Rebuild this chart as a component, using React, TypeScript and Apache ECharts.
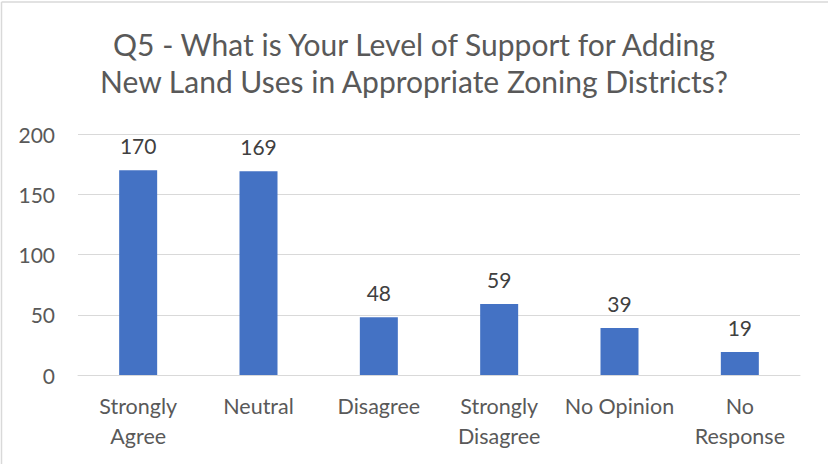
import React, { useEffect, useRef } from "react";
import * as echarts from "echarts";

const titleLines = [
  "Q5 - What is Your Level of Support for Adding",
  "New Land Uses in Appropriate Zoning Districts?",
];
const categories = [
  "Strongly\nAgree",
  "Neutral",
  "Disagree",
  "Strongly\nDisagree",
  "No Opinion",
  "No\nResponse",
];
const values = [170, 169, 48, 59, 39, 19];
const yMin = 0;
const yMax = 200;
const yInterval = 50;

const FONT = "Lato, 'Open Sans', sans-serif";

export default function App() {
  const ref = useRef<HTMLDivElement>(null);
  useEffect(() => {
    if (!ref.current) return;
    const chart = echarts.init(ref.current, null, { renderer: "svg" });
    chart.setOption({
      animation: false,
      backgroundColor: "#ffffff",
      title: {
        text: titleLines.join("\n"),
        left: "center",
        top: 20,
        textStyle: {
          fontFamily: FONT,
          fontSize: 30,
          fontWeight: "normal",
          color: "#595959",
          lineHeight: 37,
        },
      },
      graphic: [
        { type: "line", shape: { x1: 1.5, y1: 2, x2: 1.5, y2: 464 }, style: { stroke: "#d9d9d9", lineWidth: 1.5 } },
        { type: "line", shape: { x1: 1.5, y1: 2, x2: 828, y2: 2 }, style: { stroke: "#d9d9d9", lineWidth: 1.5 } },
      ],
      grid: { left: 78, right: 28, top: 134, bottom: 89, containLabel: false },
      xAxis: {
        type: "category",
        data: categories,
        axisLine: { show: true, lineStyle: { color: "#d9d9d9", width: 1 } },
        axisTick: { show: false },
        axisLabel: {
          fontFamily: FONT,
          fontSize: 21.5,
          color: "#595959",
          lineHeight: 30,
          margin: 16,
          interval: 0,
        },
      },
      yAxis: {
        type: "value",
        min: yMin,
        max: yMax,
        interval: yInterval,
        axisLine: { show: false },
        axisTick: { show: false },
        splitLine: { lineStyle: { color: "#d9d9d9", width: 1 } },
        axisLabel: {
          fontFamily: FONT,
          fontSize: 21,
          color: "#595959",
          margin: 23,
        },
      },
      series: [
        {
          type: "bar",
          data: values,
          barWidth: 38,
          itemStyle: { color: "#4472c4" },
          label: {
            show: true,
            position: "top",
            distance: 14,
            fontFamily: FONT,
            fontSize: 21,
            color: "#404040",
          },
        },
      ],
    });
    return () => chart.dispose();
  }, []);
  return (
    <div
      ref={ref}
      style={{ position: "fixed", left: 0, top: 0, width: 828, height: 464 }}
    />
  );
}
